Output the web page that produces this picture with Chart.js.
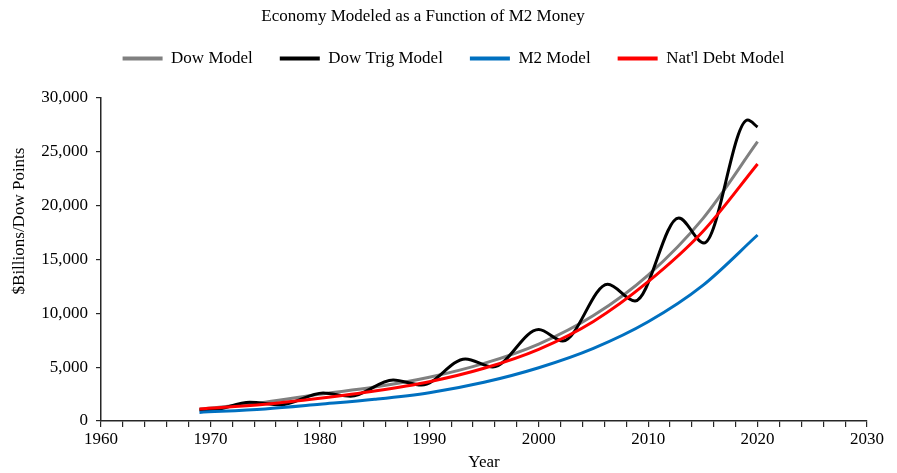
<!DOCTYPE html>
<html>
<head>
<meta charset="utf-8">
<script src="https://cdn.jsdelivr.net/npm/chart.js@4.4.1/dist/chart.umd.min.js"></script>
<style>
  html, body { margin: 0; padding: 0; background: #fff; }
</style>
</head>
<body>
<canvas id="chart" width="897" height="473"></canvas>
<script>
// values
const modelYears = [1969, 1975, 1980, 1985, 1990, 1995, 2000, 2005, 2010, 2015, 2020];
const dowModel   = [1100, 1750, 2480, 3150, 4060, 5350, 7150, 9800, 13560, 18800, 25940];
const m2Model    = [800, 1120, 1550, 2010, 2630, 3600, 4950, 6750, 9220, 12600, 17275];
const debtModel  = [1110, 1550, 2110, 2780, 3650, 4900, 6660, 9250, 12940, 17600, 23870];

// trig model: start, then alternating peaks and troughs
const trigYears = [1969, 1970, 1973.6, 1976.4, 1980.3, 1982.8, 1986.7, 1989.3, 1993.3, 1995.8,
                   2000.0, 2002.2, 2006.3, 2008.8, 2012.8, 2015.1, 2019.1, 2020];
const dowTrig   = [1050, 1000, 1750, 1500, 2600, 2300, 3810, 3340, 5760, 5015,
                   8500, 7430, 12700, 11150, 18850, 16530, 27950, 27300];

const seriesNames  = ['Dow Model', 'Dow Trig Model', 'M2 Model', "Nat'l Debt Model"];
const seriesColors = ['#808080', '#000000', '#0070C0', '#FF0000'];

const chartTitle = 'Economy Modeled as a Function of M2 Money';
const yTitle = '$Billions/Dow Points';
const xTitle = 'Year';

const serif = "'Liberation Serif', 'Times New Roman', serif";
const axisColor = '#262626';

const toPoints = (xs, ys) => xs.map((x, i) => ({ x: x, y: ys[i] }));

// legend height/offset fix, plus chart title and y title where the reference has them
const extraText = {
  id: 'extraText',
  beforeLayout(chart) {
    const lg = chart.legend;
    if (lg && !lg._patched) {
      const fit = lg.fit;
      const draw = lg.draw;
      lg.fit = function () { fit.call(this); this.height = 75; };
      lg.draw = function (area) {
        this.ctx.save();
        this.ctx.translate(20, 0);
        draw.call(this, area);
        this.ctx.restore();
      };
      lg._patched = true;
    }
  },
  afterDraw(chart) {
    const ctx = chart.ctx;
    ctx.save();
    ctx.fillStyle = '#000';
    ctx.textAlign = 'center';
    ctx.textBaseline = 'middle';
    ctx.font = '17px ' + serif;
    ctx.fillText(chartTitle, 423, 17);
    ctx.translate(20, 221);
    ctx.rotate(-Math.PI / 2);
    ctx.fillText(yTitle, 0, 0);
    ctx.restore();
  }
};

const lineStyle = (i, data) => ({
  label: seriesNames[i],
  data: data,
  borderColor: seriesColors[i],
  backgroundColor: seriesColors[i],
  borderWidth: 3,
  pointRadius: 0,
  fill: false,
  cubicInterpolationMode: 'monotone'
});

const datasets = [
  Object.assign(lineStyle(0, toPoints(modelYears, dowModel)), { order: 4 }),
  Object.assign(lineStyle(1, toPoints(trigYears, dowTrig)), { order: 3 }),
  Object.assign(lineStyle(2, toPoints(modelYears, m2Model)), { order: 2 }),
  Object.assign(lineStyle(3, toPoints(modelYears, debtModel)), { order: 1 })
];

new Chart(document.getElementById('chart'), {
  type: 'line',
  data: { datasets: datasets },
  options: {
    responsive: false,
    animation: false,
    layout: { padding: { top: 23, right: 30, bottom: 0, left: 0 } },
    plugins: {
      title: { display: false },
      tooltip: { enabled: false },
      legend: {
        position: 'top',
        labels: {
          color: '#000',
          font: { family: serif, size: 17 },
          boxWidth: 40,
          boxHeight: 4,
          padding: 27,
          generateLabels: (chart) => chart.data.datasets.map((ds, i) => ({
            text: ds.label,
            fillStyle: ds.borderColor,
            strokeStyle: ds.borderColor,
            lineWidth: 0,
            datasetIndex: i,
            hidden: false
          }))
        }
      }
    },
    scales: {
      x: {
        type: 'linear',
        min: 1960,
        max: 2030,
        afterFit: (scale) => { scale.height = 52; },
        border: { display: true, color: axisColor, width: 1.5 },
        grid: { display: true, drawOnChartArea: false, drawTicks: true, tickLength: 6, color: axisColor, lineWidth: 1.2 },
        ticks: {
          stepSize: 2,
          autoSkip: false,
          maxRotation: 0,
          padding: 2,
          color: '#000',
          font: { family: serif, size: 17 },
          callback: (v) => (v % 10 === 0 ? String(v) : '')
        },
        title: {
          display: true,
          text: xTitle,
          color: '#000',
          font: { family: serif, size: 17 },
          padding: { top: 3, bottom: 0 }
        }
      },
      y: {
        min: 0,
        max: 30000,
        afterFit: (scale) => { scale.width = 101; },
        border: { display: true, color: axisColor, width: 1.5 },
        grid: { display: true, drawOnChartArea: false, drawTicks: true, tickLength: 5, color: axisColor, lineWidth: 1.2 },
        ticks: {
          stepSize: 5000,
          padding: 8,
          color: '#000',
          font: { family: serif, size: 17 },
          callback: (v) => v.toLocaleString('en-US')
        }
      }
    }
  },
  plugins: [extraText]
});
</script>
</body>
</html>
